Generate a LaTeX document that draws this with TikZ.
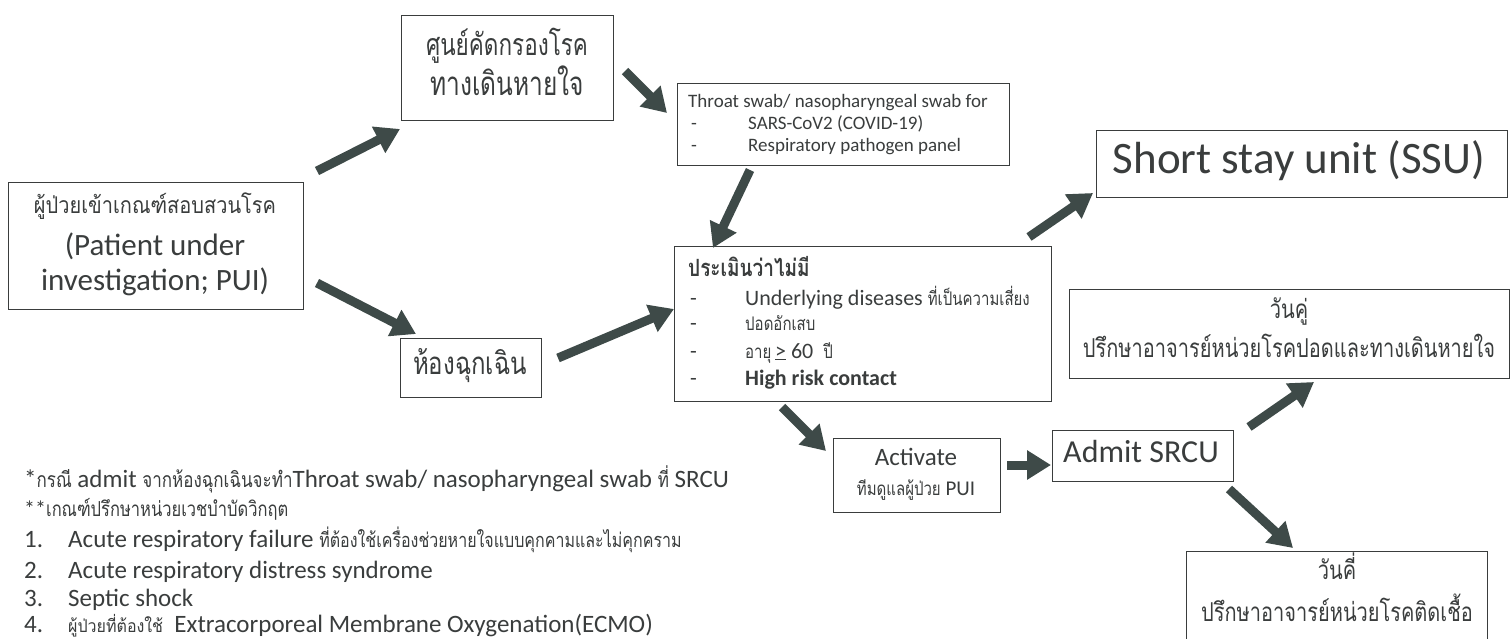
\documentclass[tikz,border=0pt]{standalone}
\usepackage{fontspec}
\usepackage{graphicx}
\setmainfont{Carlito}
\newfontfamily\thaif[Script=Thai]{Loma}
\usetikzlibrary{arrows.meta}
\definecolor{ink}{HTML}{3A3D3D}
\definecolor{arrc}{HTML}{3E4A48}
\newcommand\fsz[1]{\fontsize{#1pt}{#1pt}\selectfont}
\newcommand\ThaiT[3][1.25]{{\thaif\fsz{#2}\scalebox{1}[#1]{#3}}}
\begin{document}
\begin{tikzpicture}[x=1pt,y=-1pt,
  box/.style={draw=ink, line width=1.3pt, inner sep=0pt, anchor=north west},
  bigarrow/.style={draw=arrc, line width=9pt, -{Triangle[width=28pt,length=24pt]}},
  txt/.style={inner sep=0pt, text=ink, anchor=base},
  txtl/.style={inner sep=0pt, text=ink, anchor=base west}]
\useasboundingbox (0,0) rectangle (1511,639);
\clip (0,0) rectangle (1511,639);
\fill[white] (0,0) rectangle (1511,639);

% boxes
\node[box, minimum width=212pt, minimum height=105pt] (screen) at (401,15) {};
\node[box, minimum width=295pt, minimum height=127pt] (pui) at (8,182) {};
\node[box, minimum width=332pt, minimum height=82pt] (swab) at (677,83) {};
\node[box, minimum width=411pt, minimum height=67pt] (ssu) at (1096,130) {};
\node[box, minimum width=377pt, minimum height=155pt] (assess) at (674,246) {};
\node[box, minimum width=141pt, minimum height=59pt] (er) at (400,338) {};
\node[box, minimum width=440pt, minimum height=89pt] (even) at (1069,289) {};
\node[box, minimum width=167pt, minimum height=74pt] (activate) at (833,438) {};
\node[box, minimum width=181pt, minimum height=51pt] (admit) at (1052,430) {};
\node[box, minimum width=301pt, minimum height=110pt] (odd) at (1186,551) {};

% texts
\node[txt] (screen1) at (507,56) {\ThaiT[1.35]{22.5}{ศูนย์คัดกรองโรค}};
\node[txt] (screen2) at (507,96) {\ThaiT[1.35]{24.5}{ทางเดินหายใจ}};

\node[txt] (pui1) at (155,213) {\ThaiT[1.15]{20}{ผู้ป่วยเข้าเกณฑ์สอบสวนโรค}};
\node[txt] (pui2) at (155,255) {\fsz{31}(Patient under};
\node[txt] (pui3) at (155,290) {\fsz{31}investigation; PUI)};

\node[txtl] (swab1) at (688,108) {\fsz{19}Throat swab/ nasopharyngeal swab for};
\node[txtl] (swabd1) at (691,130) {\fsz{19}-};
\node[txtl] (swab2) at (748,130) {\fsz{19}SARS-CoV2 (COVID-19)};
\node[txtl] (swabd2) at (691,152) {\fsz{19}-};
\node[txtl] (swab3) at (748,152) {\fsz{19}Respiratory pathogen panel};

\node[txt] (ssut) at (1299,174) {\fsz{45}Short stay unit (SSU)};

\node[txtl] (as0) at (688,276) {\ThaiT{19}{\bfseries ประเมินว่าไม่มี}};
\node[txtl] (asd1) at (690,305) {\fsz{22}-};
\node[txtl] (as1) at (745,305) {\fsz{22}Underlying diseases \ThaiT{15}{ที่เป็นความเสี่ยง}};
\node[txtl] (asd2) at (690,330) {\fsz{22}-};
\node[txtl] (as2) at (745,330) {\ThaiT{15}{ปอดอักเสบ}};
\node[txtl] (asd3) at (690,358) {\fsz{22}-};
\node[txtl] (as3) at (745,358) {\ThaiT{15}{อายุ}\fsz{22}\,\underline{>} 60\ \ \ThaiT{15}{ปี}};
\node[txtl] (asd4) at (690,385) {\fsz{22}-};
\node[txtl] (as4) at (745,385) {\fsz{22}\bfseries High risk contact};

\node[txt] (ert) at (470,374) {\ThaiT[1.3]{24}{ห้องฉุกเฉิน}};

\node[txt] (even1) at (1289,318) {\ThaiT[1.3]{20}{วันคู่}};
\node[txt] (even2) at (1289,357) {\ThaiT[1.3]{20}{ปรึกษาอาจารย์หน่วยโรคปอดและทางเดินหายใจ}};

\node[txt] (act1) at (916,465) {\fsz{25}Activate};
\node[txt] (act2) at (916,495) {\ThaiT{15}{ทีมดูแลผู้ป่วย}\fsz{21} PUI};

\node[txt] (admitt) at (1141,462) {\fsz{32}Admit SRCU};

\node[txt] (odd1) at (1337,579) {\ThaiT[1.3]{20}{วันคี่}};
\node[txt] (odd2) at (1337,621) {\ThaiT[1.3]{20}{ปรึกษาอาจารย์หน่วยโรคติดเชื้อ}};

% notes
\node[txtl] (n1) at (24,487) {\fsz{25}*\ThaiT{17}{กรณี} admit \ThaiT{17}{จากห้องฉุกเฉินจะทำ}Throat swab/ nasopharyngeal swab \ThaiT{17}{ที่} SRCU};
\node[txtl] (n2) at (24,516) {\fsz{22}**\ThaiT{16.5}{เกณฑ์ปรึกษาหน่วยเวชบำบัดวิกฤต}};
\node[txtl] (l1n) at (24,547) {\fsz{25}1.};
\node[txtl] (l1) at (68,547) {\fsz{25}Acute respiratory failure \ThaiT{16}{ที่ต้องใช้เครื่องช่วยหายใจแบบคุกคามและไม่คุกคราม}};
\node[txtl] (l2n) at (24,578) {\fsz{25}2.};
\node[txtl] (l2) at (68,578) {\fsz{25}Acute respiratory distress syndrome};
\node[txtl] (l3n) at (24,606) {\fsz{25}3.};
\node[txtl] (l3) at (68,606) {\fsz{25}Septic shock};
\node[txtl] (l4n) at (24,632) {\fsz{25}4.};
\node[txtl] (l4) at (68,632) {\ThaiT[1.1]{16}{ผู้ป่วยที่ต้องใช้}\fsz{25}\ \ Extracorporeal Membrane Oxygenation(ECMO)};

% arrows
\coordinate (a1s) at (317,171); \coordinate (a1e) at (400,129);
\coordinate (a2s) at (625,71);  \coordinate (a2e) at (667,113);
\coordinate (a3s) at (317,283); \coordinate (a3e) at (416,334);
\coordinate (a4s) at (558,358); \coordinate (a4e) at (674,309);
\coordinate (a5s) at (750,170); \coordinate (a5e) at (713,248);
\coordinate (a6s) at (1029,237); \coordinate (a6e) at (1093,193);
\coordinate (a7s) at (782,407); \coordinate (a7e) at (826,451);
\coordinate (a8s) at (1007,465); \coordinate (a8e) at (1051,465);
\coordinate (a9s) at (1249,427); \coordinate (a9e) at (1314,382);
\coordinate (a10s) at (1229,489); \coordinate (a10e) at (1293,548);
\foreach \i in {1,...,10} \draw[bigarrow] (a\i s) -- (a\i e);
\end{tikzpicture}
\end{document}
